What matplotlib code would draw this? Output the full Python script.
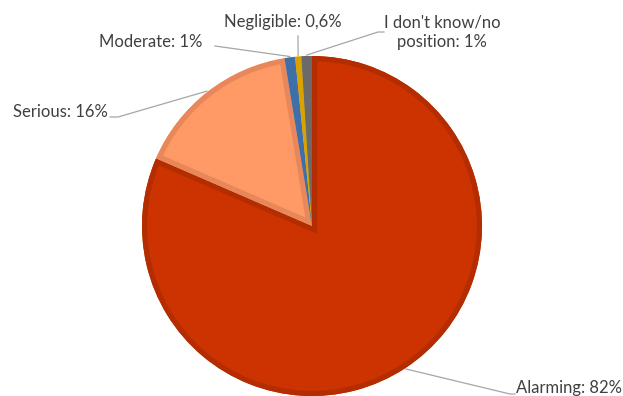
import matplotlib
matplotlib.use("Agg")
import matplotlib.pyplot as plt
from matplotlib.patches import Wedge
import numpy as np

# data
labels = ["Alarming", "Serious", "Moderate", "Negligible", "I don't know/no\nposition"]
values = [82, 16, 1, 0.6, 1]
value_text = ["82%", "16%", "1%", "0,6%", "1%"]
face_colors = ["#CC3300", "#FF9966", "#4F86C6", "#F2B800", "#7F7F7F"]
edge_colors = ["#B32D00", "#E8885A", "#3F6FA8", "#D9A200", "#6A6A6A"]

plt.rcParams["font.family"] = ["Lato", "DejaVu Sans"]

W, H = 623, 396
fig = plt.figure(figsize=(W / 100, H / 100), dpi=100)
ax = fig.add_axes([0, 0, 1, 1])

cx, cy, r = 312, 170, 170
wedges, _ = ax.pie(values, center=(cx, cy), radius=r, startangle=90,
                   counterclock=False, explode=[0.012, 0, 0, 0, 0],
                   colors=face_colors, frame=True,
                   wedgeprops=dict(linewidth=0))
wedges[4].set_hatch("....")
wedges[4].set_edgecolor("#6A6A6A")
wedges[4].set_linewidth(0)

# inner borders: thick outline clipped to the slice itself
for w, ec in zip(wedges, edge_colors):
    b = Wedge(w.center, w.r, w.theta1, w.theta2, facecolor="none",
              edgecolor=ec, linewidth=7.5, joinstyle="miter")
    ax.add_patch(b)
    b.set_clip_path(w)

ax.set_xlim(0, W)
ax.set_ylim(0, H)
ax.set_aspect("equal")
ax.axis("off")

# label positions (pixel, top-left origin) and leader bends
label_pos = [(516, 388, "left"), (108, 112, "right"), (202, 42, "right"),
             (283, 22, "center"), (442, 32, "center")]
bends = [[(510, 394), (515, 394)], [(118, 117), (110, 117)], [(215, 46)],
         [(298, 36)], [(378, 32), (384, 32)]]

for w, (tx, ty, ha), bend, lab, vt in zip(wedges, label_pos, bends, labels, value_text):
    mid = np.deg2rad((w.theta1 + w.theta2) / 2)
    wx, wy = w.center
    px = wx + (r + 1) * np.cos(mid)
    py = wy + (r + 1) * np.sin(mid)
    xs = [px] + [b[0] for b in bend]
    ys = [py] + [H - b[1] for b in bend]
    ax.plot(xs, ys, color="#A6A6A6", lw=0.9, zorder=0)
    txt = lab + ": " + vt
    ax.text(tx, H - ty, txt, ha=ha, va="center", fontsize=12,
            color="#404040", linespacing=1.25)

fig.savefig("out.png", dpi=100)
